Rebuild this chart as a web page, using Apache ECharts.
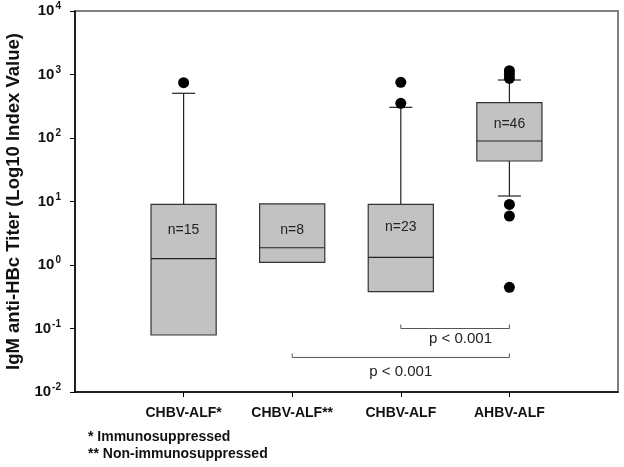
<!DOCTYPE html>
<html>
<head>
<meta charset="utf-8">
<script src="https://cdn.jsdelivr.net/npm/echarts@6/dist/echarts.min.js"></script>
<style>
html,body{margin:0;padding:0;background:#fff;}
#chart{width:624px;height:467px;}
</style>
</head>
<body>
<div id="chart"></div>
<script>
// ---- data ----
var categories = ['CHBV-ALF*', 'CHBV-ALF**', 'CHBV-ALF', 'AHBV-ALF'];
var categoryPos = [1, 2, 3, 4];
var whiskerLow = [0.079, 1.10, 0.38, 12.2];
var q1 = [0.079, 1.10, 0.38, 43.4];
var median = [1.26, 1.87, 1.32, 89.7];
var q3 = [9.04, 9.2, 9.04, 360];
var whiskerHigh = [506, 9.2, 304, 819];
var outliers = [[1, 743], [3, 754], [3, 351], [4, 1150], [4, 1000], [4, 870], [4, 9.0], [4, 5.9], [4, 0.446]];
var sampleLabels = ['n=15', 'n=8', 'n=23', 'n=46'];
var sampleLabelY = [3.56, 3.56, 4.0, 166];
var yTicks = [0.01, 0.1, 1, 10, 100, 1000, 10000];
// significance brackets: [fromX, toX, bracketY, labelX, labelY]
var brackets = [[3, 4, 0.1, 3.55, 0.0676], [2, 4, 0.035, 3.0, 0.0204]];
var pLabel = 'p < 0.001';
var footnotes = ['* Immunosuppressed', '** Non-immunosuppressed'];

var boxData = categoryPos.map(function (x, i) {
  return [x, whiskerLow[i], q1[i], median[i], q3[i], whiskerHigh[i]];
});
var textData = categoryPos.map(function (x, i) { return [x, sampleLabelY[i], i]; });

var chart = echarts.init(document.getElementById('chart'));

function renderBox(params, api) {
  var x = api.value(0);
  var lo = api.value(1), a = api.value(2), m = api.value(3), b = api.value(4), hi = api.value(5);
  var band = api.size([1, 0])[0];
  var half = band * 0.3;
  var capHalf = band * 0.106;
  var pLo = api.coord([x, lo]), pA = api.coord([x, a]), pM = api.coord([x, m]), pB = api.coord([x, b]), pHi = api.coord([x, hi]);
  var cx = pM[0];
  var lineStyle = {stroke: '#222', lineWidth: 1.2};
  var children = [];
  if (hi > b) {
    children.push({type: 'line', shape: {x1: cx, y1: pB[1], x2: cx, y2: pHi[1]}, style: lineStyle});
    children.push({type: 'line', shape: {x1: cx - capHalf, y1: pHi[1], x2: cx + capHalf, y2: pHi[1]}, style: lineStyle});
  }
  if (lo < a) {
    children.push({type: 'line', shape: {x1: cx, y1: pA[1], x2: cx, y2: pLo[1]}, style: lineStyle});
    children.push({type: 'line', shape: {x1: cx - capHalf, y1: pLo[1], x2: cx + capHalf, y2: pLo[1]}, style: lineStyle});
  }
  children.push({type: 'rect', shape: {x: cx - half, y: pB[1], width: half * 2, height: pA[1] - pB[1]},
    style: {fill: '#c2c2c2', stroke: '#333', lineWidth: 1.2}});
  children.push({type: 'line', shape: {x1: cx - half, y1: pM[1], x2: cx + half, y2: pM[1]}, style: {stroke: '#222', lineWidth: 1.2}});
  return {type: 'group', children: children};
}

function renderText(params, api) {
  var p = api.coord([api.value(0), api.value(1)]);
  return {type: 'text', x: p[0], y: p[1], style: {text: sampleLabels[api.value(2)], fill: '#222',
    font: '14px "Liberation Sans", Arial, sans-serif', align: 'center', verticalAlign: 'middle'}};
}

function renderBracket(params, api) {
  var p1 = api.coord([api.value(0), api.value(2)]);
  var p2 = api.coord([api.value(1), api.value(2)]);
  var pt = api.coord([api.value(3), api.value(4)]);
  var st = {stroke: '#555', lineWidth: 1};
  return {type: 'group', children: [
    {type: 'line', shape: {x1: p1[0], y1: p1[1], x2: p2[0], y2: p2[1]}, style: st},
    {type: 'line', shape: {x1: p1[0], y1: p1[1], x2: p1[0], y2: p1[1] - 4}, style: st},
    {type: 'line', shape: {x1: p2[0], y1: p2[1], x2: p2[0], y2: p2[1] - 4}, style: st},
    {type: 'text', x: pt[0], y: pt[1], style: {text: pLabel, fill: '#222',
      font: '15px "Liberation Sans", Arial, sans-serif', align: 'center', verticalAlign: 'middle'}}
  ]};
}

var option = {
  animation: false,
  backgroundColor: '#fff',
  textStyle: {fontFamily: '"Liberation Sans", Arial, sans-serif'},
  grid: {left: 75, right: 6, top: 11, bottom: 75, show: true, borderColor: '#808080', borderWidth: 2,
    containLabel: false, outerBoundsMode: 'none'},
  xAxis: {
    type: 'value', min: 0, max: 5, interval: 1,
    splitLine: {show: false},
    axisLine: {show: true, onZero: false, lineStyle: {color: '#000', width: 1.5}},
    axisTick: {show: true, length: 5, inside: false, customValues: categoryPos, lineStyle: {color: '#000'}},
    axisLabel: {show: true, customValues: categoryPos, margin: 14, fontSize: 14, fontWeight: 'bold', color: '#111',
      formatter: function (v) { var i = categoryPos.indexOf(Math.round(v)); return i >= 0 ? categories[i] : ''; }}
  },
  yAxis: {
    type: 'log', logBase: 10, min: yTicks[0], max: yTicks[yTicks.length - 1], interval: 1,
    splitLine: {show: false},
    minorTick: {show: false},
    axisLine: {show: true, lineStyle: {color: '#000', width: 1.5}},
    axisTick: {show: true, length: 5, inside: false, lineStyle: {color: '#000'}},
    axisLabel: {margin: 14, color: '#111',
      formatter: function (v) { var e = Math.round(Math.log10(v)); return '{b|10}{s|' + e + '}'; },
      rich: {b: {fontSize: 15, fontWeight: 'bold', color: '#111'},
             s: {fontSize: 10, fontWeight: 'bold', color: '#111', padding: [0, 0, 9, 1]}}},
    name: 'IgM anti-HBc Titer (Log10 Index Value)',
    nameLocation: 'middle', nameGap: 45, nameRotate: 90,
    nameTextStyle: {fontSize: 18.5, fontWeight: 'bold', color: '#111'}
  },
  series: [
    {type: 'custom', name: 'box', renderItem: renderBox, data: boxData, encode: {x: 0, y: [1, 2, 3, 4, 5]}, z: 2},
    {type: 'scatter', name: 'outliers', data: outliers, symbol: 'circle', symbolSize: 11, itemStyle: {color: '#000', opacity: 1}, z: 3},
    {type: 'custom', name: 'n', renderItem: renderText, data: textData, encode: {x: 0, y: 1}, z: 4},
    {type: 'custom', name: 'sig', renderItem: renderBracket, data: brackets, encode: {x: [0, 1, 3], y: [2, 4]}, z: 4, clip: false}
  ],
  graphic: [
    {type: 'text', left: 88, top: 430, style: {text: footnotes[0], fill: '#111', font: 'bold 14px "Liberation Sans", Arial, sans-serif'}},
    {type: 'text', left: 88, top: 447, style: {text: footnotes[1], fill: '#111', font: 'bold 14px "Liberation Sans", Arial, sans-serif'}}
  ]
};
chart.setOption(option);
</script>
</body>
</html>
